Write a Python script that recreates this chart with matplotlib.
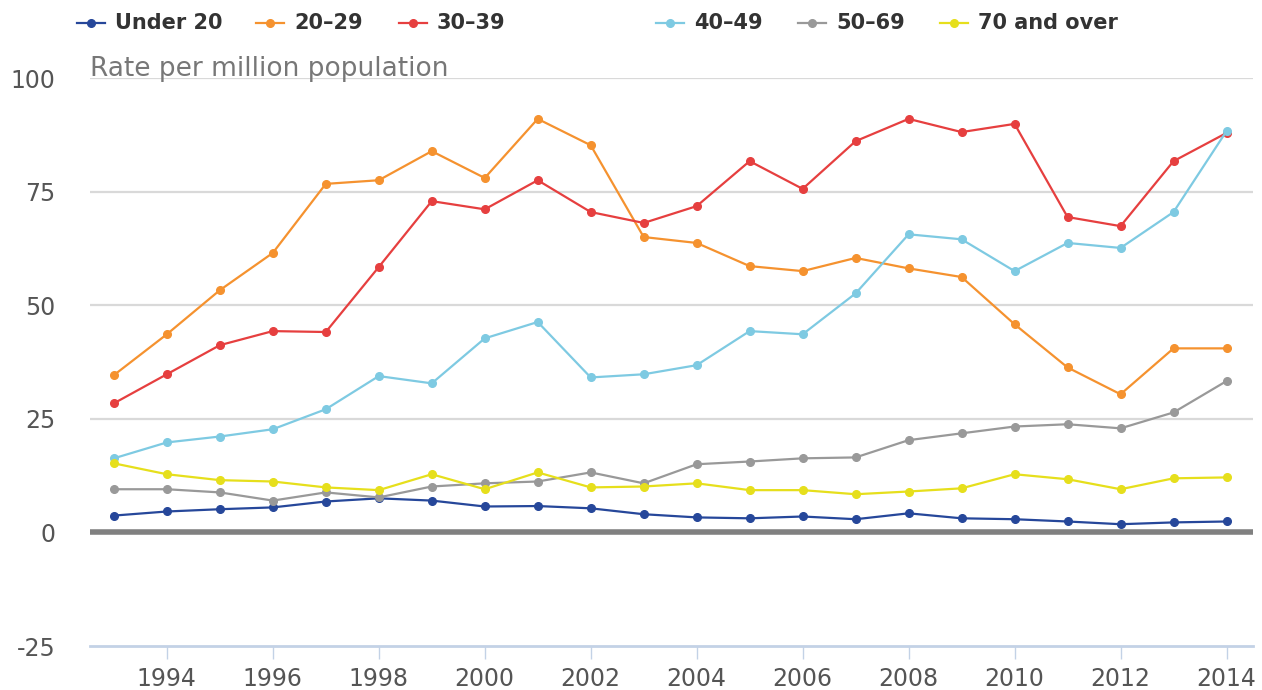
import matplotlib
matplotlib.use('Agg')
import matplotlib.pyplot as plt
from matplotlib.lines import Line2D

plt.rcParams['axes.unicode_minus'] = False

years = list(range(1993, 2015))
under_20 = [3.7, 4.6, 5.1, 5.5, 6.8, 7.5, 7.0, 5.7, 5.8, 5.3, 4.0, 3.3, 3.1, 3.5, 2.9, 4.2, 3.1, 2.9, 2.4, 1.8, 2.2, 2.4]
age_20_29 = [34.6, 43.6, 53.3, 61.5, 76.7, 77.5, 83.9, 78.0, 91.0, 85.2, 65.0, 63.7, 58.6, 57.5, 60.4, 58.1, 56.2, 45.8, 36.3, 30.4, 40.5, 40.5]
age_30_39 = [28.4, 34.8, 41.2, 44.3, 44.1, 58.4, 72.9, 71.1, 77.5, 70.5, 68.1, 71.8, 81.7, 75.6, 86.1, 91.0, 88.1, 89.9, 69.4, 67.4, 81.7, 87.9]
age_40_49 = [16.3, 19.8, 21.1, 22.7, 27.1, 34.4, 32.8, 42.7, 46.3, 34.1, 34.8, 36.8, 44.3, 43.6, 52.6, 65.6, 64.5, 57.5, 63.7, 62.6, 70.5, 88.3]
age_50_69 = [9.5, 9.5, 8.8, 7.0, 8.8, 7.7, 10.1, 10.8, 11.2, 13.2, 10.8, 15.0, 15.6, 16.3, 16.5, 20.3, 21.8, 23.3, 23.8, 22.9, 26.4, 33.3]
age_70_over = [15.2, 12.8, 11.5, 11.2, 9.9, 9.3, 12.8, 9.5, 13.2, 9.9, 10.1, 10.8, 9.3, 9.3, 8.4, 9.0, 9.7, 12.8, 11.7, 9.5, 11.9, 12.1]

labels = ['Under 20', '20\u201329', '30\u201339', '40\u201349', '50\u201369', '70 and over']
colors = ['#26479a', '#f5922f', '#e63f3f', '#7ecae2', '#999999', '#e6df1c']
series = [under_20, age_20_29, age_30_39, age_40_49, age_50_69, age_70_over]

W, H = 1262, 690
fig = plt.figure(figsize=(W / 100, H / 100), dpi=100)
ax = fig.add_axes([90 / W, 1 - 646 / H, (1253 - 90) / W, (646 - 78) / H])

for vals, c in zip(series, colors):
    ax.plot(years, vals, color=c, lw=1.6, marker='o', markersize=5.5, zorder=3)

ax.set_xlim(1992.55, 2014.5)
ax.set_ylim(-25, 100)
ax.set_yticks([-25, 0, 25, 50, 75, 100])
ax.set_xticks(range(1994, 2015, 2))
for y in [25, 50, 75, 100]:
    ax.axhline(y, color='#d9d9d9', lw=1.6, zorder=1)
ax.axhline(0, color='#808080', lw=4, zorder=2)

for s in ['top', 'left', 'right']:
    ax.spines[s].set_visible(False)
ax.spines['bottom'].set_color('#c3d2e6')
ax.spines['bottom'].set_linewidth(2)
ax.tick_params(axis='x', direction='out', length=9, width=1, color='#c3d2e6',
               labelsize=17, labelcolor='#555555', pad=6)
ax.tick_params(axis='y', length=0, labelsize=17, labelcolor='#555555', pad=25)

fig.text(90 / W, 1 - 76 / H, 'Rate per million population', fontsize=19,
         color='#777777', va='baseline', ha='left')

# legend drawn by hand to match the spacing of the original
legend_x = [77, 256, 399, 656, 798, 940]
ly = 1 - 23 / H
for x0, lab, c in zip(legend_x, labels, colors):
    fig.add_artist(Line2D([x0 / W, (x0 + 28) / W], [ly, ly], color=c, lw=1.6,
                          transform=fig.transFigure))
    fig.add_artist(Line2D([(x0 + 14) / W], [ly], color=c, marker='o', markersize=5.5,
                          transform=fig.transFigure))
    fig.text((x0 + 38) / W, ly, lab, fontsize=15, fontweight='bold',
             color='#333333', va='center', ha='left')

fig.savefig('out.png', dpi=100)
